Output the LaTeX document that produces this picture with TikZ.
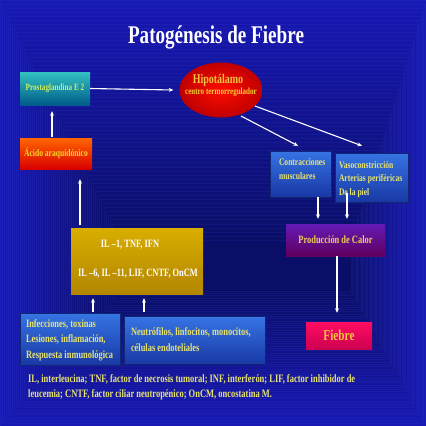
\documentclass[tikz,border=0pt]{standalone}
\usepackage{fontspec}
\setmainfont{Liberation Serif}[FakeStretch=0.75]
\usetikzlibrary{arrows.meta,shapes.geometric,calc}
\definecolor{bgL}{HTML}{1818B4}
\definecolor{bgD}{HTML}{0A0E66}
\definecolor{bgS}{HTML}{4050F0}
\definecolor{txtY}{HTML}{E8E472}
\definecolor{txtO}{HTML}{F2C43C}
\definecolor{txtG}{HTML}{CFF060}
\definecolor{blue1}{HTML}{3674E4}
\definecolor{blue2}{HTML}{1838A4}
\begin{document}
\begin{tikzpicture}[x=1pt,y=-1pt,
  every node/.style={font=\bfseries, inner sep=0pt},
  arr/.style={white, line width=1.1pt, -{Stealth[length=4.5pt,width=4pt]}},
  bluebox/.style={rectangle, top color=blue1, bottom color=blue2, draw=blue2!70!black, line width=0.4pt},
  btext/.style={anchor=north west, text=txtY, align=left},
]
\useasboundingbox (0,0) rectangle (426,426);
% background
\fill[bgL] (0,0) rectangle (426,426);
\foreach \i in {0,...,59}{
  \pgfmathsetmacro\t{\i/59}
  \pgfmathsetmacro\p{100*\t}
  \fill[bgD!\p!bgL, draw=bgD!\p!bgL!88!bgS, line width=0.45pt]
    (120*\t, 240*\t) rectangle (426-75*\t, 426-135*\t);
}
% title
\node[white, font=\bfseries\fontsize{25.5}{28}\selectfont] (title) at (216,37) {Patogénesis de Fiebre};
% nodes
\node[rectangle, minimum width=70pt, minimum height=33pt, top color=teal!60!cyan!80!white, bottom color=teal!80!blue!90!black,
  text=txtG, font=\bfseries\fontsize{9.6}{11}\selectfont] (pg) at (55,88.5) {Prostaglandina E 2};
\node[ellipse, minimum width=83pt, minimum height=55pt, inner color=red!90!orange, outer color=red!75!black] (hip) at (221,90) {};
\node[text=txtO, font=\bfseries\fontsize{13.3}{14}\selectfont] (hipA) at ($(hip.center)+(-3,-10)$) {Hipotálamo};
\node[text=txtO!80!yellow, font=\bfseries\fontsize{9.4}{10}\selectfont] (hipB) at ($(hip.center)+(0,2.5)$) {centro termorregulador};
\node[rectangle, minimum width=72pt, minimum height=31pt, top color=orange!80!red, bottom color=red!85!black,
  text=txtO!70!yellow, font=\bfseries\fontsize{10.1}{11}\selectfont] (ac) at (56,153.5) {Ácido araquidónico};
\node[rectangle, minimum width=132pt, minimum height=66pt, top color=yellow!60!orange!85!black, bottom color=yellow!50!orange!70!black] (il) at (137,261) {};
\node[text=white, font=\bfseries\fontsize{11.2}{13}\selectfont] (ilA) at ($(il.center)+(-7,-16)$) {IL –1, TNF, IFN};
\node[text=white, font=\bfseries\fontsize{11.2}{13}\selectfont] (ilB) at ($(il.center)+(1,13)$) {IL –6, IL –11, LIF, CNTF, OnCM};
\node[bluebox, minimum width=100pt, minimum height=52pt] (inf) at (70,339) {};
\node[btext, font=\bfseries\fontsize{11.2}{15.5}\selectfont]
  at ([shift={(6,6.5)}]inf.north west) {Infecciones, toxinas\\Lesiones, inflamación,\\Respuesta inmunológica};
\node[bluebox, minimum width=141pt, minimum height=48pt] (neu) at (194.5,340.5) {};
\node[btext, font=\bfseries\fontsize{11.2}{16}\selectfont]
  at ([shift={(7,11.5)}]neu.north west) {Neutrófilos, linfocitos, monocitos,\\células endoteliales};
\node[bluebox, minimum width=61pt, minimum height=46pt] (con) at (300.5,174) {};
\node[btext, font=\bfseries\fontsize{10.1}{13.5}\selectfont]
  at ([shift={(9,7.5)}]con.north west) {Contracciones\\musculares};
\node[bluebox, minimum width=73pt, minimum height=49pt] (vas) at (371.5,177.5) {};
\node[btext, font=\bfseries\fontsize{10.1}{13.5}\selectfont]
  at ([shift={(4,8)}]vas.north west) {Vasoconstricción\\Arterias periféricas\\De la piel};
\node[rectangle, minimum width=99pt, minimum height=32pt, top color=violet!65!blue!90!white, bottom color=violet!75!black,
  text=txtY!80!orange, font=\bfseries\fontsize{11.2}{12}\selectfont] (pro) at (335.5,240) {Producción de Calor};
\node[rectangle, minimum width=66pt, minimum height=27pt, top color=red!65!magenta!95!white, bottom color=red!60!magenta!80!black,
  text=txtO, font=\bfseries\fontsize{15}{16}\selectfont] (fie) at (339,335.5) {Fiebre};
% footnote
\node[btext, font=\bfseries\fontsize{11.3}{14.5}\selectfont] (foot) at (28,374.5)
  {IL, interleucina; TNF, factor de necrosis tumoral; INF, interferón; LIF, factor inhibidor de\\leucemia; CNTF, factor ciliar neutropénico; OnCM, oncostatina M.};
% arrows
\draw[arr] (pg.east) -- ($(hip.west)+(-6,0)$);
\draw[arr] ($(ac.north)+(-4,-1)$) -- ($(pg.south)+(-3,6)$);
\draw[arr] ($(il.north)+(-57,-3)$) -- ($(ac.south)+(24,10)$);
\draw[arr] ($(inf.north)+(23,-1)$) -- ($(il.south)+(-44,4)$);
\draw[arr] ($(neu.north)+(-50.5,-4)$) -- ($(il.south)+(7,4)$);
\draw[arr] ($(hip.center)+(20,26)$) -- ($(con.north)+(-2.5,-5)$);
\draw[arr] ($(hip.center)+(34,16)$) -- ($(vas.north)+(-9.5,-7)$);
\draw[arr] ($(con.south)+(17.5,0)$) -- ($(pro.north)+(-17.5,-5)$);
\draw[arr] ($(vas.south)+(-24.5,-9)$) -- ($(pro.north)+(11.5,-5)$);
\draw[arr] ($(pro.south)+(1.5,0)$) -- ($(fie.north)+(-2,-9)$);
\end{tikzpicture}
\end{document}
